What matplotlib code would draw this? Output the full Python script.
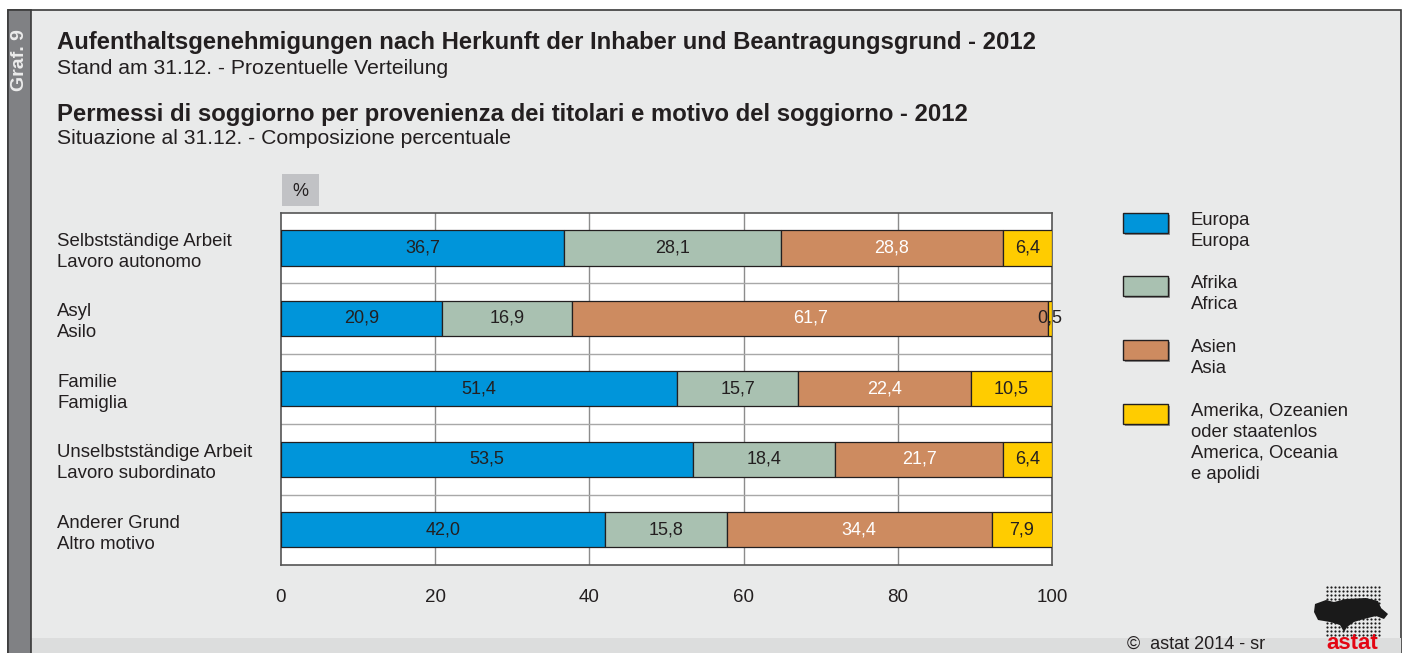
import numpy as np
import matplotlib.pyplot as plt
from matplotlib.patches import Rectangle, Polygon

plt.rcParams['font.family'] = ['Liberation Sans', 'DejaVu Sans']

# Daten
kategorien = ['Selbstständige Arbeit\nLavoro autonomo', 'Asyl\nAsilo', 'Familie\nFamiglia',
              'Unselbstständige Arbeit\nLavoro subordinato', 'Anderer Grund\nAltro motivo']
europa = [36.7, 20.9, 51.4, 53.5, 42.0]
afrika = [28.1, 16.9, 15.7, 18.4, 15.8]
asien = [28.8, 61.7, 22.4, 21.7, 34.4]
amerika = [6.4, 0.5, 10.5, 6.4, 7.9]
serien = ['Europa\nEuropa', 'Afrika\nAfrica', 'Asien\nAsia',
          'Amerika, Ozeanien\noder staatenlos\nAmerica, Oceania\ne apolidi']
xticks = [0, 20, 40, 60, 80, 100]

farben = ['#0095da', '#a9c1b1', '#cd8b60', '#ffcc00']
textfarben = ['#231f20', '#231f20', 'white', '#231f20']
dunkel = '#231f20'

W, H = 1406, 653
fig = plt.figure(figsize=(W / 100, H / 100), dpi=100)
fig.patch.set_facecolor('white')

# Hintergrund in Pixelkoordinaten
bg = fig.add_axes([0, 0, 1, 1], zorder=0)
bg.set_xlim(0, W)
bg.set_ylim(H, 0)
bg.axis('off')
bg.add_patch(Rectangle((8, 10), 1393, 650, facecolor='#e9eaea', edgecolor='#3a3a3a', lw=1.2))
bg.add_patch(Rectangle((31, 638), 1370, 20, facecolor='#dcdddd', edgecolor='none'))
bg.add_patch(Rectangle((8, 10), 23, 650, facecolor='#808184', edgecolor='#3a3a3a', lw=1.2))
bg.text(19.5, 60, 'Graf. 9', rotation=90, color='#ececec', fontsize=14, fontweight='bold',
        ha='center', va='center')

# Titel
bg.text(57, 43, 'Aufenthaltsgenehmigungen nach Herkunft der Inhaber und Beantragungsgrund - 2012',
        fontsize=17.2, fontweight='bold', color=dunkel, va='center')
bg.text(57, 68, 'Stand am 31.12. - Prozentuelle Verteilung', fontsize=15.2, color=dunkel, va='center')
bg.text(57, 114, 'Permessi di soggiorno per provenienza dei titolari e motivo del soggiorno - 2012',
        fontsize=17.2, fontweight='bold', color=dunkel, va='center')
bg.text(57, 138, 'Situazione al 31.12. - Composizione percentuale', fontsize=15.2, color=dunkel,
        va='center')

# %-Kasten
bg.add_patch(Rectangle((282, 174), 37, 32, facecolor='#c1c2c5', edgecolor='none'))
bg.text(300.5, 191, '%', fontsize=13, color=dunkel, ha='center', va='center')

# Legende
leg_y = [213, 276, 340, 404]
for name, farbe, y in zip(serien, farben, leg_y):
    bg.add_patch(Rectangle((1125, y + 2), 45, 20, facecolor='#555555', edgecolor='none', alpha=0.6))
    bg.add_patch(Rectangle((1123, y), 45, 20, facecolor=farbe, edgecolor=dunkel, lw=1))
    bg.text(1191, y - 1, name, fontsize=13.3, color=dunkel, va='top', linespacing=1.3)

# Fusszeile
bg.text(1265, 653, '©  astat 2014 - sr', fontsize=13, color=dunkel, ha='right', va='bottom')
bg.text(1352, 654, 'astat', fontsize=16, fontweight='bold', color='#e30613', ha='center', va='bottom')
gx, gy = np.meshgrid(np.arange(1327, 1380, 4), np.arange(587, 636, 4))
bg.scatter(gx.ravel(), gy.ravel(), s=2.5, color='#1a1a1a', lw=0)
blob = Polygon([(1315, 604), (1326, 600), (1334, 602), (1346, 599), (1366, 598), (1378, 601),
                (1381, 608), (1388, 614), (1384, 619), (1376, 616), (1364, 619), (1354, 622),
                (1347, 627), (1344, 632), (1340, 625), (1330, 622), (1318, 620), (1314, 612)],
               closed=True, facecolor='#1a1a1a', edgecolor='none')
bg.add_patch(blob)

# Diagramm
ax = fig.add_axes([281 / W, 1 - 565 / H, (1052 - 281) / W, (565 - 212.7) / H], zorder=2)
ax.set_facecolor('white')
y = np.arange(len(kategorien))
links = np.zeros(len(kategorien))
for werte, farbe, tf in zip([europa, afrika, asien, amerika], farben, textfarben):
    bars = ax.barh(y, werte, left=links, height=0.5, color=farbe, edgecolor=dunkel, lw=0.9, zorder=3)
    ax.bar_label(bars, labels=[f'{v:.1f}'.replace('.', ',') for v in werte], label_type='center',
                 color=tf, fontsize=13)
    links += np.array(werte)

ax.set_xlim(0, 100)
ax.set_ylim(len(kategorien) - 0.5, -0.5)
for xv in xticks[1:-1]:
    ax.axvline(xv, color='#8c8c8c', lw=1, zorder=1)
for yv in np.arange(0.5, len(kategorien) - 0.5, 1):
    ax.axhline(yv, color='#a8a8a8', lw=1, zorder=1)
ax.set_xticks(xticks)
ax.set_xticklabels([str(t) for t in xticks])
ax.set_yticks(y)
ax.set_yticklabels(kategorien, ha='left', linespacing=1.3)
ax.tick_params(axis='x', length=0, pad=17, labelsize=13.5, labelcolor=dunkel)
ax.tick_params(axis='y', length=0, pad=161, labelsize=13.4, labelcolor=dunkel)
for s in ax.spines.values():
    s.set_color('#555555')
    s.set_linewidth(1.2)

fig.savefig('out.png', dpi=100)
